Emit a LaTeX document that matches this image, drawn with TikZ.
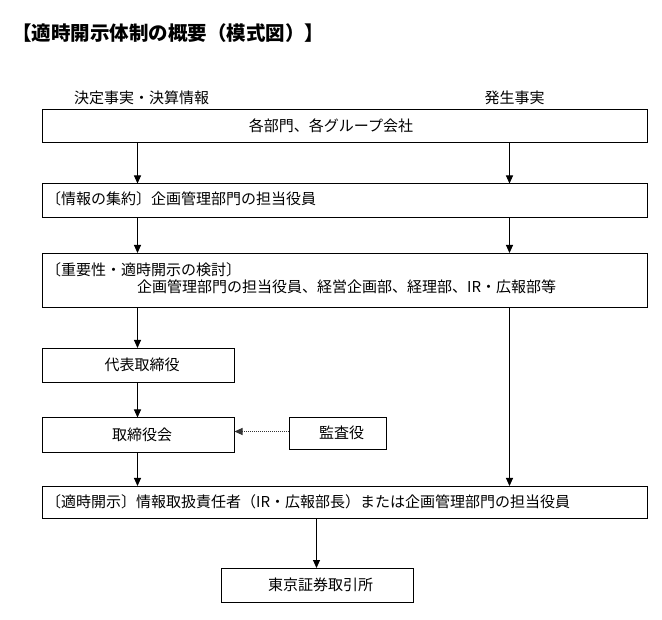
\documentclass[tikz,border=0pt]{standalone}
\usepackage{fontspec}
\newfontfamily\jp{Noto Sans CJK JP}
\usetikzlibrary{arrows.meta}
\begin{document}
\begin{tikzpicture}[x=1pt,y=-1pt,
  box/.style={draw, line width=1pt, anchor=north west, inner sep=0pt},
  txt/.style={inner sep=0pt, font=\jp\fontsize{15}{18}\selectfont},
  ttl/.style={inner sep=0pt, font=\jp\bfseries\fontsize{19.5}{23}\selectfont},
  arr/.style={line width=1pt, -{Triangle[length=8pt,width=7pt]}},
  darr/.style={line width=1pt, dash pattern=on 1pt off 1pt, draw=black!80, -{Triangle[length=8pt,width=7pt]}}]
\path[fill=white,use as bounding box] (0,0) rectangle (662,620);
% lanes
\coordinate (L) at (137.5,0);
\coordinate (R) at (509.5,0);
\coordinate (M) at (316.5,0);
\coordinate (D) at (0,431.5);
% title and labels
\node[ttl, anchor=west] (title) at (12,33) {【適時開示体制の概要（模式図）】};
\node[txt, anchor=west] (lab1) at (74,98) {決定事実・決算情報};
\node[txt, anchor=west] (lab2) at (484.5,98) {発生事実};
% boxes
\node[box, minimum width=605, minimum height=33] (b1) at (41.5,109.5) {};
\node[box, minimum width=605, minimum height=34] (b2) at (41.5,183.5) {};
\node[box, minimum width=605, minimum height=54] (b3) at (41.5,253) {};
\node[box, minimum width=192, minimum height=34] (b4) at (41.5,348) {};
\node[box, minimum width=192, minimum height=34.5] (b5) at (41.5,417.5) {};
\node[box, minimum width=97, minimum height=32] (b9) at (288.5,417.5) {};
\node[box, minimum width=605, minimum height=32] (b6) at (41.5,486) {};
\node[box, minimum width=192, minimum height=34] (b7) at (220.5,568) {};
% texts
\node[txt] (t1) at (331,126) {各部門、各グループ会社};
\node[txt, anchor=west] (t2) at (46,199) {〔情報の集約〕企画管理部門の担当役員};
\node[txt, anchor=west] (t3a) at (46,270) {〔重要性・適時開示の検討〕};
\node[txt, anchor=west] (t3b) at (137,287) {企画管理部門の担当役員、経営企画部、経理部、IR・広報部等};
\node[txt] (t4) at (142,365) {代表取締役};
\node[txt] (t5) at (142,434.5) {取締役会};
\node[txt] (t9) at (341.5,433) {監査役};
\node[txt, anchor=west] (t6) at (46,502) {〔適時開示〕情報取扱責任者（IR・広報部長）または企画管理部門の担当役員};
\node[txt] (t7) at (320.5,585) {東京証券取引所};
% connectors
\draw[arr] (b1.south -| L) -- (b2.north -| L);
\draw[arr] (b1.south -| R) -- (b2.north -| R);
\draw[arr] (b2.south -| L) -- (b3.north -| L);
\draw[arr] (b2.south -| R) -- (b3.north -| R);
\draw[arr] (b3.south -| L) -- (b4.north -| L);
\draw[arr] (b3.south -| R) -- (b6.north -| R);
\draw[arr] (b4.south -| L) -- (b5.north -| L);
\draw[arr] (b5.south -| L) -- (b6.north -| L);
\draw[darr] (b9.west |- D) -- (b5.east |- D);
\draw[arr] (b6.south -| M) -- (b7.north -| M);
\end{tikzpicture}
\end{document}
